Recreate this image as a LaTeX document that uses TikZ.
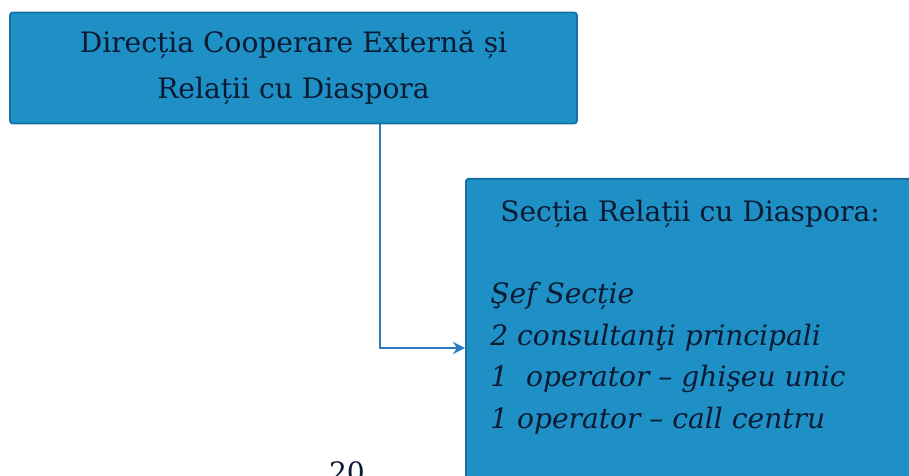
\documentclass[tikz,border=0pt]{standalone}
\usepackage{fontspec}
\setmainfont{DejaVu Serif}
\usepackage{xcolor}
\usepackage{tikz}
\usetikzlibrary{positioning, arrows.meta}
\definecolor{boxblue}{HTML}{1E90C6}
\definecolor{boxedge}{HTML}{1670A6}
\definecolor{inkblue}{HTML}{0B1B33}
\definecolor{linkblue}{HTML}{2B7BC4}

\begin{document}
\begin{tikzpicture}[x=0.02cm, y=-0.02cm,
    unitbox/.style={fill=boxblue, draw=boxedge, line width=1pt, rounded corners=1.5pt, inner sep=0pt},
    unittext/.style={text=inkblue, font=\fontsize{16pt}{26pt}\selectfont, inner sep=0pt},
    link/.style={draw=linkblue, line width=0.9pt, -{Stealth[length=7pt, width=7pt, inset=2.5pt]}}]
    \useasboundingbox (0,0) rectangle (909,476);
    \clip (0,0) rectangle (909,476);
    % top unit
    \node[unitbox, minimum width=11.34cm, minimum height=2.22cm] (dir) at (293.5,68) {};
    \node[unittext, align=center] (dirname) at (dir.center) {Direcția Cooperare Externă și\\Relații cu Diaspora};
    % section box, runs past the page edge
    \node[unitbox, anchor=north west, minimum width=9.3cm, minimum height=6.4cm] (sec) at (465,178) {};
    \node[unittext, anchor=base] (sechead) at (690,222) {Secția Relații cu Diaspora:};
    \node[unittext, anchor=base west, align=left, font=\fontsize{16pt}{23.6pt}\selectfont\itshape] (secstaff) at (490,428) {%
      Şef Secție\\
      2 consultanţi principali\\
      1~~operator – ghişeu unic\\
      1 operator – call centru};
    % connector
    \coordinate (turn) at (380,348);
    \draw[link] (dir.south -| turn) -- (turn) -- (turn -| sec.west);
    % page number
    \node[unittext, anchor=base] (pagenum) at (347,482) {20};
\end{tikzpicture}
\end{document}
